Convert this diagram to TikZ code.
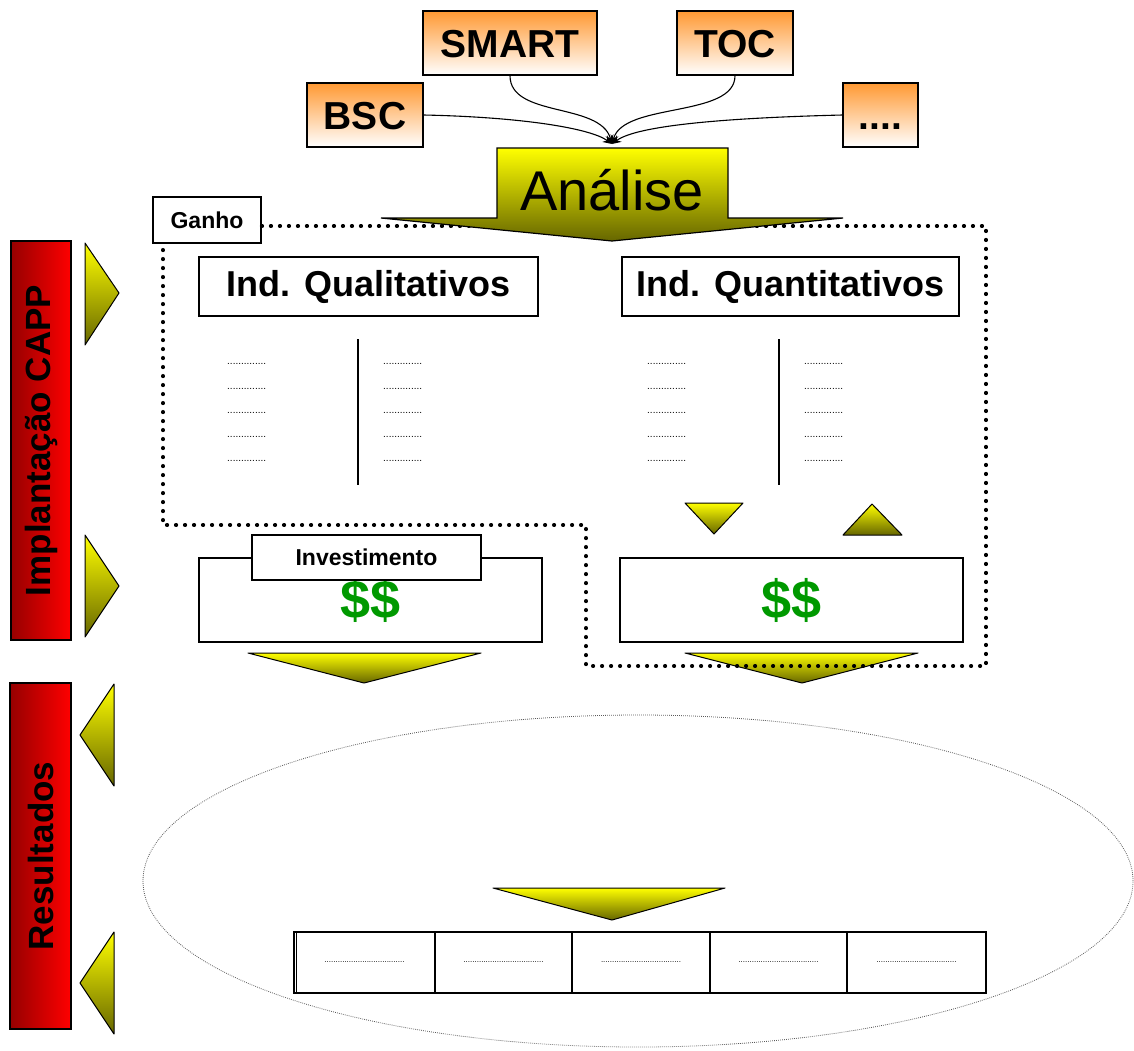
\documentclass[tikz,border=0pt]{standalone}
\usepackage{fontspec}
\setmainfont{Liberation Sans}
\usetikzlibrary{arrows.meta}

\definecolor{orangetop}{RGB}{255,153,51}
\definecolor{yel}{RGB}{255,255,0}
\definecolor{oliv}{RGB}{102,102,0}
\definecolor{darkred}{RGB}{150,0,0}
\definecolor{brightred}{RGB}{255,0,0}
\definecolor{money}{RGB}{0,153,0}
\definecolor{ringgray}{RGB}{90,90,90}

\newcommand\setfs[1]{\fontsize{#1pt}{#1pt}\selectfont}

\begin{document}
\begin{tikzpicture}[x=1pt,y=-1pt,
  frame/.style={draw=black, line width=1.3pt, inner sep=0pt},
  whitebox/.style={frame, fill=white},
  tool/.style={frame, top color=orangetop, bottom color=white, font=\setfs{39}\bfseries,
    text height=28pt, text depth=0pt},
  title/.style={whitebox, font=\setfs{36}\bfseries},
  tag/.style={whitebox, font=\setfs{23}\bfseries},
  cash/.style={whitebox, text=money, font=\setfs{54}\bfseries},
  ytri/.style={draw=black, line width=1pt, line join=round, top color=yel, bottom color=oliv},
  redbar/.style={draw=black, line width=1.2pt, left color=darkred, right color=brightred},
  sidelabel/.style={rotate=90, font=\setfs{35}\bfseries},
  conn/.style={line width=1.1pt, -{Stealth[length=9pt,width=8pt]}},
  gain/.style={line width=3.6pt, dash pattern=on 0.6pt off 8.4pt, line cap=round},
  ring/.style={draw=ringgray, line width=0.8pt, dash pattern=on 0.8pt off 1.2pt},
  dotrow/.style={inner sep=0pt, font=\setfs{10}},
  celldots/.style={inner sep=0pt, font=\setfs{8}},
  cell/.style={whitebox, minimum height=61pt},
]
\useasboundingbox (0,0) rectangle (1134,1050);

% results ellipse
\draw[ring] (638,881) ellipse [x radius=495pt, y radius=166pt];

% side bars with their labels
\node[redbar, minimum width=60pt, minimum height=399pt] (bar1) at (41,440.5) {};
\node[sidelabel] (lab1) at (bar1.center) {Implantação CAPP};
\node[redbar, minimum width=61pt, minimum height=346pt] (bar2) at (40.5,856) {};
\node[sidelabel] (lab2) at (bar2.center) {Resultados};

% pointers beside the bars
\path[ytri] (85,243) -- (119,293) -- (85,345) -- cycle;
\path[ytri] (85,535) -- (119,586) -- (85,637) -- cycle;
\path[ytri] (114,684) -- (80,735) -- (114,786) -- cycle;
\path[ytri] (114,932) -- (80,983) -- (114,1034) -- cycle;

% methods feeding the analysis
\node[tool, minimum width=174pt, minimum height=64pt] (smart) at (510,43) {SMART};
\node[tool, minimum width=116pt, minimum height=64pt] (toc) at (735,43) {TOC};
\node[tool, minimum width=116pt, minimum height=64pt] (bsc) at (365,115) {BSC};
\node[tool, minimum width=75pt, minimum height=64pt] (more) at (880.5,115) {....};
\coordinate (meet) at (612,144);
\draw[conn] (bsc.east) .. controls (520,117) and (590,128) .. (meet);
\draw[conn] (smart.south) .. controls (510,118) and (600,102) .. (meet);
\draw[conn] (toc.south) .. controls (735,118) and (624,102) .. (meet);
\draw[conn] (more.west) .. controls (720,118) and (636,126) .. (meet);

% indicator headings
\node[title, minimum width=339pt, minimum height=59pt] (qual) at (368.5,286.5) {Ind. Qualitativos};
\node[title, minimum width=337pt, minimum height=59pt] (quant) at (790.5,286.5) {Ind. Quantitativos};
\draw[line width=1.3pt] (358,339) -- (358,485);
\draw[line width=1.3pt] (779,339) -- (779,485);
\foreach \cx in {227,383,647,804}
  \foreach \ry in {363,388,412,436,460}
    \node[dotrow, anchor=base west] (d-\cx-\ry) at (\cx,\ry+1) {..............};

% arrows below the money boxes
\path[ytri] (248,653) -- (481,653) -- (364,683) -- cycle;
\path[ytri] (685,653) -- (918,653) -- (802,683) -- cycle;

% gain region
\node[tag, minimum width=108pt, minimum height=46pt] (ganho) at (207,220) {Ganho};
\draw[gain] ([yshift=-6pt]ganho.east) -- (986,226) -- (986,666) -- (586,666)
  -- (586,525) -- (163,525) -- (163,246);

% analysis arrow
\path[ytri, line width=1.2pt, line join=miter]
  (497,148) -- (728,148) -- (728,218) -- (843,218) -- (612,241)
  -- (381,218) -- (497,218) -- cycle;
\node[anchor=base, inner sep=0pt, font=\setfs{56}] (analise) at (612,210) {Análise};

% money boxes
\node[cash, minimum width=343pt, minimum height=84pt] (inv) at (370.5,600) {\$\$};
\node[tag, minimum width=229pt, minimum height=45pt] (invtag) at (366.5,557.5) {Investimento};
\node[cash, minimum width=343pt, minimum height=84pt] (ret) at (791.5,600) {\$\$};

% up and down markers
\path[ytri] (685,503) -- (743,503) -- (714,534) -- cycle;
\path[ytri] (843,535) -- (902,535) -- (872,504) -- cycle;

% results row
\path[ytri] (493,888) -- (725,888) -- (612,920) -- cycle;
\node[cell, minimum width=141pt] (cell1) at (364.5,962.5) {};
\node[cell, minimum width=137pt] (cell2) at (503.5,962.5) {};
\node[cell, minimum width=138pt] (cell3) at (641,962.5) {};
\node[cell, minimum width=137pt] (cell4) at (778.5,962.5) {};
\node[cell, minimum width=139pt] (cell5) at (916.5,962.5) {};
\draw[line width=1.3pt] ([xshift=3pt]cell1.north west) -- ([xshift=3pt]cell1.south west);
\foreach \c in {1,...,5}
  \node[celldots] (t\c) at (cell\c.center) {....................................};
\end{tikzpicture}
\end{document}
